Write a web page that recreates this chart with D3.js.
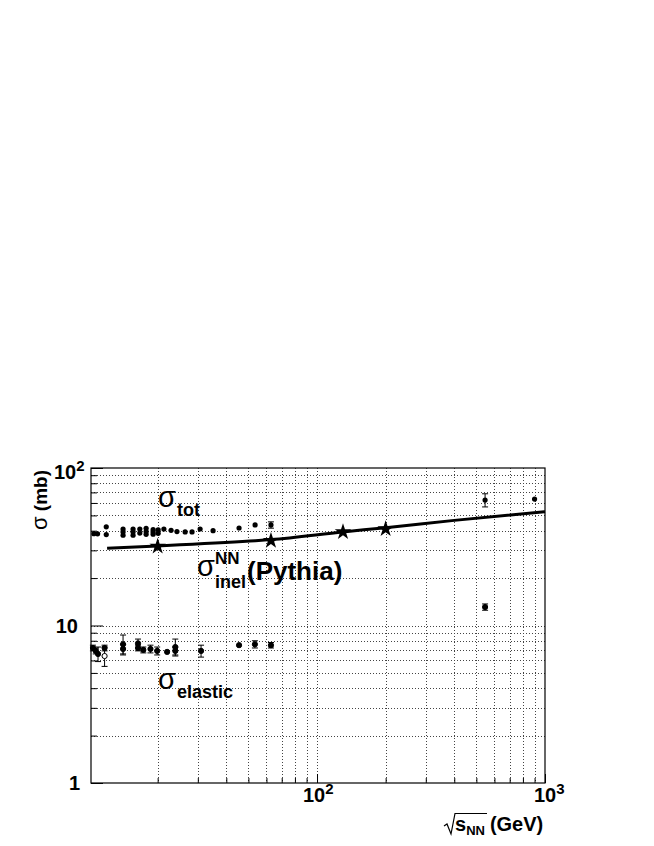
<!DOCTYPE html>
<html>
<head>
<script src="https://cdnjs.cloudflare.com/ajax/libs/d3/7.8.5/d3.min.js"></script>
<style>
  body { margin: 0; background: #fff; }
  text { font-family: "Liberation Sans", Arial, sans-serif; fill: #000; }
</style>
</head>
<body>
<script>
// sigma_tot measurements (sqrt(s) in GeV, sigma in mb, error)
const totX = [10.5, 10.9, 11.9, 11.9, 14.1, 14.1, 14.1, 15.6, 15.6, 15.6, 16.7, 16.7, 17.8, 17.8, 17.8,
              19.1, 19.1, 19.1, 20.1, 20.1, 21.3, 22.9, 24.3, 26.4, 28.3, 30.7, 35, 45.5, 53.5, 62.8, 546, 900];
const totY = [38.3, 38.2, 42.3, 37.8, 41.0, 39.3, 37.4, 41.0, 39.3, 37.4, 41.0, 38.6, 41.4, 39.5, 37.9,
              40.6, 39.3, 38.0, 40.5, 38.5, 41.0, 40.2, 39.5, 39.3, 39.3, 41.0, 40.0, 41.6, 43.5, 43.5, 62.6, 63.5];
const totErr = [0.4, 0.4, 0.6, 0.5, 0.8, 0.6, 0.6, 0.8, 0.5, 0.6, 0.6, 0.5, 0.6, 0.5, 0.5,
                0.5, 0.4, 0.4, 0.5, 0.4, 0.4, 0.3, 0.3, 0.3, 0.3, 0.6, 0.3, 0.4, 0.5, 2.0, 6.0, 1.5];

// sigma_elastic measurements
const elX = [10.4, 10.7, 10.95, 11.7, 11.7, 14.1, 14.1, 16.4, 16.4, 17.3, 18.6, 19.9, 22.0, 23.9, 23.9, 31.0, 45.5, 53.4, 62.8, 546];
const elY = [7.2, 6.9, 6.6, 7.2, 6.4, 7.6, 7.1, 7.7, 7.2, 7.0, 7.1, 6.9, 6.8, 7.3, 6.9, 6.9, 7.5, 7.6, 7.5, 13.1];
const elErr = [0.3, 0.3, 0.7, 0.3, 0.9, 1.1, 0.5, 0.5, 0.3, 0.3, 0.4, 0.4, 0.2, 0.9, 0.4, 0.6, 0.2, 0.4, 0.3, 0.6];
const elOpen = [false, false, false, false, true, false, false, false, false, false, false, false, false, false, false, false, false, false, false, false];

// Pythia inelastic cross section: curve and star points
const pyLineX = [12, 20, 50.8, 62.8, 130, 200, 400, 1000];
const pyLineY = [30.9, 32.0, 34.4, 35.1, 39.3, 41.8, 46.5, 52.8];
const pyStarX = [20, 62.8, 130, 200];
const pyStarY = [31.8, 34.6, 39.3, 41.0];

// grid and tick values
const xGrid = [20, 30, 40, 50, 60, 70, 80, 90, 100, 200, 300, 400, 500, 600, 700, 800, 900];
const yGrid = [2, 3, 4, 5, 6, 7, 8, 9, 10, 20, 30, 40, 50, 60, 70, 80, 90];
const xMajor = [100, 1000];
const yMajor = [1, 10, 100];

const W = 654, H = 846;
const L = 91, R = 545, T = 468, B = 783;

const svg = d3.select("body").append("svg")
    .attr("width", W).attr("height", H);
svg.append("rect").attr("width", W).attr("height", H).attr("fill", "#fff");

const x = d3.scaleLog().domain([10.2, 1000]).range([L, R]);
const y = d3.scaleLog().domain([1, 100]).range([B, T]);

// grid
const grid = svg.append("g").attr("stroke", "#444").attr("stroke-width", 1).attr("stroke-dasharray", "1,2");
grid.selectAll(".gx").data(xGrid.filter(v => x(v) < R - 1)).join("line")
    .attr("x1", d => Math.round(x(d)) + 0.5).attr("x2", d => Math.round(x(d)) + 0.5)
    .attr("y1", T).attr("y2", B);
grid.selectAll(".gy").data(yGrid).join("line")
    .attr("y1", d => Math.round(y(d)) + 0.5).attr("y2", d => Math.round(y(d)) + 0.5)
    .attr("x1", L).attr("x2", R);

// axis ticks (inward, ROOT style)
const xMinor = xGrid.filter(v => !xMajor.includes(v));
const yMinor = yGrid.filter(v => !yMajor.includes(v));
const axX = svg.append("g").attr("transform", `translate(0,${B})`);
axX.call(d3.axisBottom(x).tickValues(xMinor).tickSize(-5).tickFormat("").tickSizeOuter(0));
axX.call(g => g.append("g").call(d3.axisBottom(x).tickValues(xMajor).tickSize(-9).tickFormat("").tickSizeOuter(0)));
const axY = svg.append("g").attr("transform", `translate(${L},0)`);
axY.call(d3.axisLeft(y).tickValues(yMinor).tickSize(-6).tickFormat("").tickSizeOuter(0));
axY.call(g => g.append("g").call(d3.axisLeft(y).tickValues(yMajor).tickSize(-12).tickFormat("").tickSizeOuter(0)));
svg.selectAll(".domain").remove();
svg.selectAll(".tick line").attr("stroke", "#000");

// frame
svg.append("rect").attr("x", L).attr("y", T).attr("width", R - L).attr("height", B - T)
    .attr("fill", "none").attr("stroke", "#000").attr("stroke-width", 1.2);

// tick labels
function powLabel(g, px, py, base, exp, anchor) {
  const t = g.append("text").attr("x", px).attr("y", py)
      .attr("font-size", 20).attr("font-weight", "bold").attr("text-anchor", anchor);
  t.append("tspan").text(base);
  if (exp) t.append("tspan").attr("font-size", 15).attr("dy", -8).text(exp);
}
const labels = svg.append("g");
powLabel(labels, 303, 802, "10", "2", "start");
powLabel(labels, 534, 802, "10", "3", "start");
powLabel(labels, 54, 479, "10", "2", "start");
powLabel(labels, 78, y(10) + 7, "10", null, "end");
powLabel(labels, 80, y(1) + 7, "1", null, "end");

// axis titles
const yt = svg.append("text").attr("transform", "translate(47,470) rotate(-90)")
    .attr("text-anchor", "end").attr("font-size", 19).attr("font-weight", "bold");
yt.append("tspan").attr("font-weight", "normal").attr("font-size", 22).text("σ");
yt.append("tspan").text(" (mb)");

svg.append("path").attr("d", "M444,826 L447,824 L451,834 L455,813.5 L487,813.5")
    .attr("fill", "none").attr("stroke", "#000").attr("stroke-width", 1.2);
const xt = svg.append("text").attr("x", 455).attr("y", 831).attr("font-size", 20).attr("font-weight", "bold");
xt.append("tspan").text("s");
xt.append("tspan").attr("font-size", 13).attr("dy", 4).text("NN");
xt.append("tspan").attr("dy", -4).attr("dx", 5).text("(GeV)");

// error bars
function errorBars(xs, ys, es) {
  const g = svg.append("g").attr("stroke", "#000").attr("stroke-width", 1);
  xs.forEach((xv, i) => {
    const px = x(xv), y1 = y(ys[i] + es[i]), y2 = y(ys[i] - es[i]);
    g.append("line").attr("x1", px).attr("x2", px).attr("y1", y1).attr("y2", y2);
    if (Math.abs(y2 - y1) > 5) {
      g.append("line").attr("x1", px - 3).attr("x2", px + 3).attr("y1", y1).attr("y2", y1);
      g.append("line").attr("x1", px - 3).attr("x2", px + 3).attr("y1", y2).attr("y2", y2);
    }
  });
}
errorBars(totX, totY, totErr);
errorBars(elX, elY, elErr);

svg.append("g").selectAll("circle").data(totX).join("circle")
    .attr("cx", d => x(d)).attr("cy", (d, i) => y(totY[i])).attr("r", 2.6).attr("fill", "#000");
svg.append("g").selectAll("circle").data(elX).join("circle")
    .attr("cx", d => x(d)).attr("cy", (d, i) => y(elY[i])).attr("r", 2.6)
    .attr("fill", (d, i) => elOpen[i] ? "#fff" : "#000").attr("stroke", "#000").attr("stroke-width", 1);

// Pythia curve
const line = d3.line().x(d => x(d[0])).y(d => y(d[1])).curve(d3.curveMonotoneX);
svg.append("path").datum(pyLineX.map((v, i) => [v, pyLineY[i]]))
    .attr("d", line).attr("fill", "none").attr("stroke", "#000").attr("stroke-width", 3);
svg.append("g").selectAll("path").data(pyStarX).join("path")
    .attr("transform", (d, i) => `translate(${x(d)},${y(pyStarY[i])})`)
    .attr("d", d3.symbol(d3.symbolStar, 85)).attr("fill", "#000");

// annotations
function greek(px, py, sub, sup) {
  const t = svg.append("text").attr("x", px).attr("y", py).attr("font-size", 29);
  t.append("tspan").text("σ");
  if (sup) {
    t.append("tspan").attr("font-size", 17).attr("font-weight", "bold").attr("dy", -12).attr("dx", 0).text(sup);
    t.append("tspan").attr("font-size", 18).attr("font-weight", "bold")
        .attr("x", px + 18).attr("dy", 24).text(sub);
  } else {
    t.append("tspan").attr("font-size", 18).attr("font-weight", "bold").attr("dy", 9).attr("dx", 1).text(sub);
  }
  return t;
}
greek(158, 507, "tot");
greek(158, 689, "elastic");
greek(197, 576, "inel", "NN");
svg.append("text").attr("x", 247).attr("y", 580).attr("font-size", 26).attr("font-weight", "bold").text("(Pythia)");
</script>
</body>
</html>
